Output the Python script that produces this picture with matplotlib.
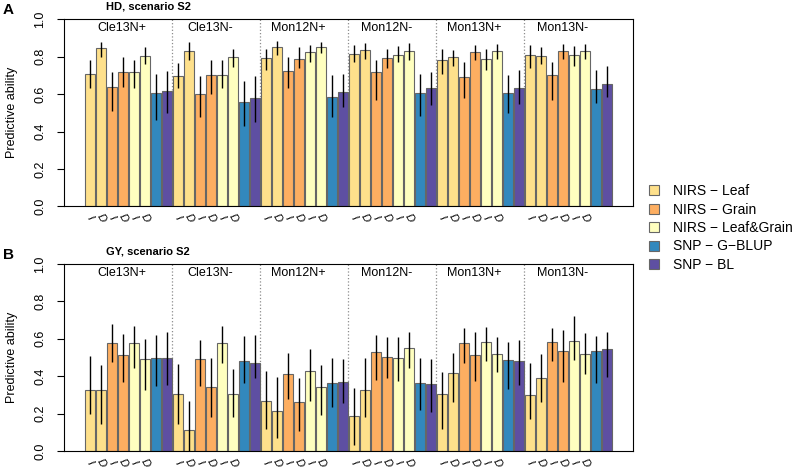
import matplotlib
matplotlib.use('Agg')

import matplotlib.pyplot as plt
from matplotlib.patches import Patch

# -----------------------------
# DATA
# -----------------------------
groups = ["Cle13N+", "Cle13N-", "Mon12N+", "Mon12N-", "Mon13N+", "Mon13N-"]
methods = ["NIRS \u2212 Leaf", "NIRS \u2212 Grain", "NIRS \u2212 Leaf&Grain",
           "SNP \u2212 G\u2212BLUP", "SNP \u2212 BL"]
bar_labels = ["I", "D", "I", "D", "I", "D"]
y_ticks = [0.0, 0.2, 0.4, 0.6, 0.8, 1.0]
y_ticklabels = ["0.0", "0.2", "0.4", "0.6", "0.8", "1.0"]

# order inside each group: Leaf I, Leaf D, Grain I, Grain D, L&G I, L&G D, G-BLUP, BL
hd_vals = [
    [0.705, 0.845, 0.64, 0.72, 0.72, 0.805, 0.607, 0.615],
    [0.695, 0.828, 0.60, 0.70, 0.703, 0.797, 0.556, 0.577],
    [0.795, 0.85, 0.725, 0.79, 0.823, 0.853, 0.583, 0.612],
    [0.815, 0.835, 0.717, 0.793, 0.81, 0.83, 0.607, 0.63],
    [0.783, 0.80, 0.69, 0.827, 0.788, 0.83, 0.607, 0.632],
    [0.81, 0.805, 0.70, 0.828, 0.808, 0.83, 0.627, 0.652],
]
hd_lo = [
    [0.63, 0.80, 0.51, 0.64, 0.635, 0.76, 0.46, 0.50],
    [0.63, 0.78, 0.475, 0.60, 0.63, 0.745, 0.43, 0.45],
    [0.73, 0.81, 0.63, 0.74, 0.77, 0.82, 0.48, 0.53],
    [0.77, 0.79, 0.57, 0.74, 0.77, 0.78, 0.485, 0.54],
    [0.71, 0.75, 0.58, 0.78, 0.73, 0.79, 0.50, 0.545],
    [0.74, 0.76, 0.57, 0.79, 0.75, 0.79, 0.55, 0.585],
]
hd_hi = [
    [0.78, 0.88, 0.72, 0.80, 0.785, 0.85, 0.705, 0.725],
    [0.765, 0.88, 0.695, 0.78, 0.78, 0.84, 0.67, 0.695],
    [0.84, 0.885, 0.80, 0.85, 0.865, 0.88, 0.70, 0.71],
    [0.86, 0.875, 0.78, 0.84, 0.857, 0.875, 0.705, 0.72],
    [0.84, 0.836, 0.77, 0.86, 0.84, 0.866, 0.70, 0.73],
    [0.865, 0.85, 0.77, 0.87, 0.857, 0.87, 0.73, 0.75],
]

gy_vals = [
    [0.325, 0.325, 0.58, 0.512, 0.575, 0.49, 0.50, 0.50],
    [0.307, 0.11, 0.49, 0.34, 0.58, 0.307, 0.48, 0.47],
    [0.27, 0.216, 0.414, 0.264, 0.427, 0.34, 0.362, 0.368],
    [0.186, 0.325, 0.527, 0.505, 0.50, 0.55, 0.362, 0.359],
    [0.304, 0.416, 0.579, 0.512, 0.582, 0.52, 0.486, 0.48],
    [0.30, 0.393, 0.584, 0.537, 0.586, 0.52, 0.537, 0.545],
]
gy_lo = [
    [0.20, 0.143, 0.477, 0.37, 0.443, 0.327, 0.345, 0.354],
    [0.146, 0.0, 0.348, 0.18, 0.47, 0.18, 0.366, 0.39],
    [0.116, 0.07, 0.28, 0.107, 0.27, 0.193, 0.236, 0.255],
    [0.03, 0.184, 0.38, 0.393, 0.375, 0.446, 0.22, 0.21],
    [0.12, 0.264, 0.473, 0.375, 0.482, 0.425, 0.33, 0.354],
    [0.17, 0.26, 0.48, 0.37, 0.486, 0.41, 0.364, 0.396],
]
gy_hi = [
    [0.51, 0.46, 0.68, 0.625, 0.667, 0.60, 0.62, 0.634],
    [0.464, 0.268, 0.594, 0.50, 0.67, 0.44, 0.616, 0.62],
    [0.43, 0.396, 0.525, 0.393, 0.545, 0.46, 0.496, 0.49],
    [0.336, 0.50, 0.62, 0.607, 0.61, 0.637, 0.498, 0.49],
    [0.423, 0.525, 0.66, 0.634, 0.664, 0.607, 0.584, 0.596],
    [0.47, 0.52, 0.66, 0.648, 0.72, 0.63, 0.616, 0.634],
]

method_colors = ["#FEE08B", "#FDAE61", "#FFFFBF", "#3288BD", "#5E4FA2"]
# which method each of the 8 bars belongs to
bar_method = [0, 0, 1, 1, 2, 2, 3, 4]


def draw_panel(ax, vals, lo, hi, title, letter, fig):
    n = len(bar_method)
    trans = ax.get_xaxis_transform()
    for g, name in enumerate(groups):
        xs = [g * n + k for k in range(n)]
        cols = [method_colors[m] for m in bar_method]
        ax.bar(xs, vals[g], width=0.9, color=cols, edgecolor="#666666",
               linewidth=0.8, zorder=2)
        ax.vlines(xs, lo[g], hi[g], color="black", linewidth=1.0, zorder=3)
        # group name
        ax.text(g * n + 2.95, 0.953, name, ha="center", va="center",
                fontsize=9)
        # I / D labels under the bars
        for k, lab in enumerate(bar_labels):
            ax.text(xs[k], -0.063, lab, transform=trans, ha="center",
                    va="center", rotation=-60, fontsize=8, style="italic")
        if g > 0:
            ax.axvline(g * n - 0.5, color="#8c8c8c", linestyle=":",
                       linewidth=0.9, zorder=1)

    ax.set_xlim(-2.35, len(groups) * n - 0.5 + 1.88)
    ax.set_ylim(0, 1)
    ax.set_xticks([])
    ax.set_yticks(y_ticks)
    ax.set_yticklabels(y_ticklabels, rotation=90, va="center", ha="center")
    ax.tick_params(axis="y", length=5, width=0.8, pad=12, labelsize=9)
    for sp in ax.spines.values():
        sp.set_linewidth(0.8)
    ax.set_ylabel("Predictive ability", fontsize=9, va="center")
    ax.yaxis.set_label_coords(-0.091, 0.5)

    pos = ax.get_position()
    fig.text(148 / 798, pos.y1 + 12.5 / 469, title, ha="center",
             va="center", fontsize=8, fontweight="bold")
    fig.text(3 / 798, pos.y1 + 9 / 469, letter, ha="left", va="center",
             fontsize=11, fontweight="bold")


def main():
    plt.rcParams['font.family'] = ['Liberation Sans', 'DejaVu Sans']

    fig = plt.figure(figsize=(7.98, 4.69), dpi=100)
    ax_a = fig.add_axes([64 / 798, 1 - 206.3 / 469, 569 / 798, 187 / 469])
    ax_b = fig.add_axes([64 / 798, 1 - 451 / 469, 569 / 798, 187 / 469])

    # -----------------------------
    # PANELS
    # -----------------------------
    draw_panel(ax_a, hd_vals, hd_lo, hd_hi, "HD, scenario S2", "A", fig)
    draw_panel(ax_b, gy_vals, gy_lo, gy_hi, "GY, scenario S2", "B", fig)

    # -----------------------------
    # LEGEND
    # -----------------------------
    handles = [Patch(facecolor=c, edgecolor="#666666", linewidth=0.8)
               for c in method_colors]
    fig.legend(handles, methods, loc="center left",
               bbox_to_anchor=(649 / 798, 1 - 228 / 469), frameon=False,
               fontsize=10, handlelength=0.72, handleheight=0.72,
               handletextpad=1.0, labelspacing=0.32, borderpad=0,
               borderaxespad=0)

    fig.savefig("out.png", dpi=100)
    plt.close(fig)


if __name__ == "__main__":
    main()
